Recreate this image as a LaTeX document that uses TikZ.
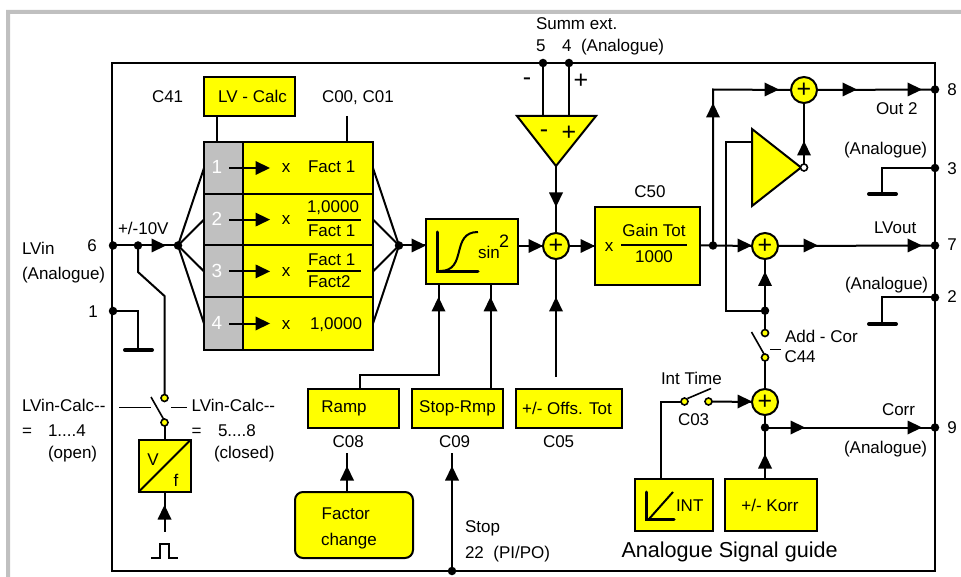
\documentclass[tikz,border=0pt]{standalone}
\usepackage{fontspec}
\setmainfont{Liberation Sans}
\usetikzlibrary{calc}
\definecolor{yel}{HTML}{FFFF00}
\definecolor{gry}{HTML}{C0C0C0}
\newcommand{\fs}[1]{\fontsize{#1}{#1}\selectfont}
\tikzset{
 x=1pt,y=-1pt,
 every path/.style={line width=2pt,line join=miter},
 wire/.style={draw=black,line width=2pt},
 thin wire/.style={draw=black,line width=1pt},
 thick bar/.style={draw=black,line width=4pt,line cap=round},
 box/.style={draw=black,fill=yel,line width=2pt,inner sep=0pt,outer sep=0pt,font=\fs{17}},
 graybox/.style={draw=black,fill=gry,line width=2pt,inner sep=0pt,outer sep=0pt},
 sum/.style={circle,draw=black,fill=yel,line width=2pt,minimum size=26pt,inner sep=0pt,outer sep=0pt,font=\fs{25}},
 dot/.style={circle,fill=black,minimum size=8.5pt,inner sep=0pt,outer sep=0pt},
 contact/.style={circle,draw=black,fill=yel,line width=1.6pt,minimum size=7pt,inner sep=0pt,outer sep=0pt},
 txt/.style={inner sep=0pt,outer sep=0pt,anchor=base west,font=\fs{17}},
 ctr/.style={inner sep=0pt,outer sep=0pt,anchor=base,font=\fs{17}},
 headr/.pic={\fill[black] (0,0)--(-14.5,-7)--(-14.5,7)--cycle;},
 headu/.pic={\fill[black] (0,0)--(-7,14.5)--(7,14.5)--cycle;},
 headd/.pic={\fill[black] (0,0)--(-7,-14.5)--(7,-14.5)--cycle;},
}
\begin{document}
\begin{tikzpicture}
\useasboundingbox (0,0) rectangle (961,577);
\fill[white] (0,0) rectangle (961,577);
% outer grey frame
\fill[gry] (6,577)--(6,10)--(961,10)--(961,14)--(10,14)--(10,577)--cycle;
% frame of the device
\draw[wire] (112,63) rectangle (935,571);

% boxes
\node[box,minimum width=91pt,minimum height=39pt] (lv) at (249.5,96.5) {\hspace{6pt}LV - Calc};
\foreach \i/\y in {1/168,2/219.6,3/271.4,4/323.5}{
  \node[graybox,minimum width=39pt,minimum height=52pt] (g\i) at (223.5,\y) {};
  \node[box,minimum width=130pt,minimum height=52pt] (c\i) at (308,\y) {};
}
\foreach \i/\y/\t in {1/174/1,2/226/2,3/278/3,4/330/4}{
  \node[ctr,font=\fs{19},text=white] (n\i) at (217,\y) {\t};
}
\foreach \i/\y/\b in {1/168/173,2/219.6/225,3/271.4/277,4/323.5/329}{
  \coordinate (ra\i) at (229,\y);
  \coordinate (rb\i) at (256,\y);
  \draw[wire] (ra\i)--(rb\i);
  \pic at (270,\y) {headr};
  \node[ctr] (x\i) at (286,\b) {x};
}
\node[txt] (f1) at (308,173) {Fact 1};
\node[txt] (f2a) at (307,213) {1,0000};
\node[txt] (f2b) at (308,236.5) {Fact 1};
\node[txt] (f3a) at (308,265.5) {Fact 1};
\node[txt] (f3b) at (308,288) {Fact2};
\node[txt] (f4) at (310,330) {1,0000};
\coordinate (l2a) at (307,219.6); \coordinate (l2b) at (361,219.6);
\coordinate (l3a) at (307,271.4); \coordinate (l3b) at (361,271.4);
\draw[wire] (l2a)--(l2b) (l3a)--(l3b);

\node[txt] (c41) at (152,103) {C41};
\node[txt] (c00) at (322,103) {C00, C01};
\coordinate (lvt) at (217,142); \coordinate (lvb) at (217,116);
\draw[wire] (lvb)--(lvt);
\coordinate (cct) at (347,116); \coordinate (ccb) at (347,142);
\draw[wire] (cct)--(ccb);

% input
\node[dot] (d6) at (113,245.5) {};
\node[dot] (d10) at (138,245.5) {};
\node[dot] (dl) at (178,245.5) {};
\node[dot] (dr) at (399,245.5) {};
\draw[wire] (d6.center)--(d10.center)--(dl.center);
\pic at (166,245.5) {headr};
\foreach \i in {1,2,3,4}{
  \draw[wire] (dl.center)--(g\i.west);
  \draw[wire] (dr.center)--(c\i.east);
}
\node[txt] (lvin) at (22,255) {LVin};
\node[txt] (lvina) at (22,280) {(Analogue)};
\node[ctr] (p6) at (92,252) {6};
\node[txt] (p10) at (118,235) {+/-10V};

% sin2 ramp
\node[box,minimum width=92pt,minimum height=65pt] (sin) at (471.5,252) {};
\draw[wire] (dr.center)--(sin.west|-dr);
\pic at (426,245.5) {headr};
\draw[line width=3pt,line cap=round] (437.5,232)--(437.5,272)--(478,272);
\draw[wire] (440,271) .. controls (468,271) and (450,232) .. (478,232);
\node[txt] (sintxt) at (478,259) {sin};
\node[txt,font=\fs{18}] (sin2) at (499,248) {2};

% summing point 1
\node[sum] (s1) at (556,246) {+};
\draw[wire] (sin.east|-s1)--(s1.west);
\pic at (543,246) {headr};
\node[box,minimum width=105pt,minimum height=78pt] (gain) at (647.5,246) {};
\draw[wire] (s1.east)--(gain.west);
\pic at (595,246) {headr};
\node[ctr] (xg) at (609,251.7) {x};
\node[ctr] (gt) at (654,236.7) {Gain Tot};
\node[ctr] (gb) at (654,262.7) {1000};
\coordinate (gl1) at (621,245); \coordinate (gl2) at (687,245);
\draw[wire] (gl1)--(gl2);
\node[ctr] (c50) at (650,198) {C50};

% summ ext
\coordinate (ta) at (517,116); \coordinate (tb) at (596,116); \coordinate (tc) at (556,166);
\draw[box] (ta)--(tb)--(tc)--cycle;
\node[dot] (d5) at (543,63) {};
\node[dot] (d4) at (569,63) {};
\coordinate (i5) at (543,116); \coordinate (i4) at (569,116);
\draw[wire] (d5.center)--(i5) (d4.center)--(i4);
\draw[wire] (tc)--(s1.north);
\pic at (556,207) {headd};
\node[txt] (sx) at (536,30) {Summ ext.};
\node[txt] (p5) at (536,51.6) {5};
\node[txt] (p4) at (562,51.6) {4};
\node[txt] (san) at (581,51.6) {(Analogue)};
\node[ctr,font=\fs{25}] (m1) at (527,86) {-};
\node[ctr,font=\fs{25}] (p1) at (581,89) {+};
\node[ctr,font=\fs{25}] (m2) at (544,138) {-};
\node[ctr,font=\fs{25}] (p2) at (569,141) {+};

% right part: out 2
\node[dot] (dg) at (713,245.5) {};
\node[sum] (s2) at (804,90) {+};
\node[dot] (d8) at (935,89.5) {};
\coordinate (up) at (713,89.5);
\draw[wire] (gain.east|-dg)--(dg.center)--(up)--(s2.west);
\draw[wire] (s2.east)--(d8.center);
\pic at (713,103) {headu};
\pic at (779,89.5) {headr};
\pic at (857,89.5) {headr};
\pic at (922,89.5) {headr};
\node[ctr] (p8) at (952,96) {8};
\node[txt] (out2) at (876,115) {Out 2};

% amplifier
\coordinate (oa) at (752,129); \coordinate (ob) at (752,206); \coordinate (oc) at (801,167.5);
\draw[box] (oa)--(ob)--(oc)--cycle;
\node[circle,draw=black,fill=white,line width=1.6pt,minimum size=7pt,inner sep=0pt,outer sep=0pt] (bub) at (804,167.5) {};
\draw[wire] (bub.north)--(s2.south);
\pic at (804,141) {headu};
\coordinate (oi) at (752,142); \coordinate (oj) at (725.5,142);

% LVout
\node[sum] (s3) at (765,246) {+};
\node[dot] (d7) at (935,245.5) {};
\draw[wire] (dg.center)--(s3.west);
\draw[wire] (s3.east)--(d7.center);
\pic at (752,245.5) {headr};
\pic at (818,245.5) {headr};
\pic at (922,245.5) {headr};
\node[ctr] (p7) at (952,250.7) {7};
\node[txt] (lvout) at (874,234) {LVout};
\node[dot] (dc) at (765,310.7) {};
\coordinate (ok) at (725.5,310.7);
\draw[wire] (oi)--(oj)--(ok)--(dc.center);
\draw[wire] (dc.center)--(s3.south);
\pic at (765,271.5) {headu};

% earths
\node[dot] (d3) at (935,168) {};
\coordinate (e3a) at (882,168); \coordinate (e3b) at (882,194);
\coordinate (b3a) at (869,194); \coordinate (b3b) at (896,194);
\draw[wire] (d3.center)--(e3a)--(e3b);
\draw[thick bar] (b3a)--(b3b);
\node[ctr] (p3) at (952,175) {3};
\node[txt] (an3) at (844,155) {(Analogue)};
\node[dot] (d2) at (935,297.5) {};
\coordinate (e2a) at (882,297.5); \coordinate (e2b) at (882,324);
\coordinate (b2a) at (869,324); \coordinate (b2b) at (896,324);
\draw[wire] (d2.center)--(e2a)--(e2b);
\draw[thick bar] (b2a)--(b2b);
\node[ctr] (p2n) at (952,303) {2};
\node[txt] (an2) at (845,290) {(Analogue)};
\node[dot] (d1) at (113,311) {};
\coordinate (e1a) at (138,311); \coordinate (e1b) at (138,350);
\coordinate (b1a) at (125,350); \coordinate (b1b) at (152,350);
\draw[wire] (d1.center)--(e1a)--(e1b);
\draw[thick bar] (b1a)--(b1b);
\node[ctr] (p1n) at (93,317) {1};

% add-cor switch
\node[contact] (k1) at (765,333) {};
\node[contact] (k2) at (765,357.5) {};
\coordinate (lev1) at (751.5,332); \coordinate (lev2) at (764,354);
\draw[wire,line width=1.6pt] (lev1)--(lev2);
\coordinate (da1) at (770,349); \coordinate (da2) at (781,349);
\draw[thin wire] (da1)--(da2);
\draw[wire] (dc.center)--(k1.north);
\node[sum] (s4) at (765,402) {+};
\draw[wire] (k2.south)--(s4.north);
\node[txt] (addc) at (785,342.7) {Add - Cor};
\node[txt] (c44) at (784.5,362.7) {C44};

% int switch
\node[contact] (k3) at (684.5,401.5) {};
\node[contact] (k4) at (708.5,401.5) {};
\coordinate (lev3) at (687.5,398.5); \coordinate (lev4) at (711,388.5);
\draw[wire,line width=1.6pt] (lev3)--(lev4);
\draw[wire] (k4.east)--(s4.west);
\pic at (752,401.5) {headr};
\node[txt] (intt) at (661,384) {Int Time};
\node[txt] (c03) at (678,425) {C03};
\node[box,minimum width=78pt,minimum height=52pt] (int) at (673.5,505) {};
\node[box,minimum width=92pt,minimum height=52pt] (korr) at (771,505) {+/- Korr\hspace{2pt}\null};
\coordinate (ii) at (660.5,401.5); \coordinate (ij) at (660.5,479);
\draw[wire] (k3.west)--(ii)--(ij);
\draw[line width=3pt,line cap=round] (646.5,492)--(646.5,519)--(674,519);
\draw[wire] (649,519)--(673,492);
\node[txt] (inttxt) at (676,511.5) {INT};
\node[dot] (d9a) at (765,427.5) {};
\node[dot] (d9) at (935,427.5) {};
\coordinate (kt) at (765,479);
\draw[wire] (kt)--(s4.south);
\draw[wire] (d9a.center)--(d9.center);
\pic at (765,454) {headu};
\pic at (805,427.5) {headr};
\pic at (922,427.5) {headr};
\node[ctr] (p9) at (952,433) {9};
\node[txt] (corr) at (882,415) {Corr};
\node[txt] (an9) at (844,453) {(Analogue)};
\node[txt,font=\fs{21.6}] (asg) at (621.5,557.7) {Analogue Signal guide};

% ramp group
\node[box,minimum width=91pt,minimum height=39pt] (ramp) at (353.5,408) {Ramp\hspace{19pt}\null};
\node[box,minimum width=91pt,minimum height=39pt] (stop) at (457.5,408) {Stop-Rmp};
\node[box,minimum width=106pt,minimum height=39pt] (offs) at (569,408) {+/- Offs. Tot\hspace{4pt}\null};
\coordinate (r1) at (360,388.5); \coordinate (r2) at (360,375); \coordinate (r3) at (438.5,375); \coordinate (r4) at (438.5,284.5);
\draw[wire] (r1)--(r2)--(r3)--(r4);
\pic at (438.5,297) {headu};
\coordinate (st1) at (490.5,388.5); \coordinate (st2) at (490.5,284.5);
\draw[wire] (st1)--(st2);
\pic at (490.5,297) {headu};
\coordinate (of1) at (556,377);
\draw[wire] (of1)--(s1.south);
\pic at (556,297) {headu};
\node[txt] (c08) at (332.7,447) {C08};
\node[txt] (c09) at (439,447) {C09};
\node[txt] (c05) at (543,447) {C05};
\node[box,rounded corners=8pt,minimum width=118pt,minimum height=66pt] (fac) at (354,525) {};
\node[txt] (fac1) at (321.7,519) {Factor};
\node[txt] (fac2) at (321,545) {change};
\coordinate (fa) at (347,492); \coordinate (fb) at (347,453);
\draw[wire] (fa)--(fb);
\pic at (347,466) {headu};
\node[dot] (d22) at (452,571) {};
\coordinate (sb) at (452,453);
\draw[wire] (d22.center)--(sb);
\pic at (452,466) {headu};
\node[txt] (stp) at (465,532) {Stop};
\node[txt] (p22) at (465,558) {22\ \ (PI/PO)};

% V/f switch
\coordinate (sw1) at (138,272); \coordinate (sw2) at (164.5,296);
\node[contact] (k5) at (164.5,398) {};
\node[contact] (k6) at (164.5,422.5) {};
\draw[wire] (d10.center)--(sw1)--(sw2)--(k5.north);
\coordinate (lev5) at (151,397); \coordinate (lev6) at (163.5,419);
\draw[wire,line width=1.6pt] (lev5)--(lev6);
\coordinate (ld1) at (119,407); \coordinate (ld2) at (151,407);
\coordinate (ld3) at (171,407); \coordinate (ld4) at (187,407);
\draw[thin wire] (ld1)--(ld2) (ld3)--(ld4);
\node[box,minimum width=52pt,minimum height=52pt] (vf) at (164.5,466) {};
\draw[wire] (k6.south)--(vf.north);
\draw[wire] (vf.south west)--(vf.north east);
\node[ctr] (v) at (153,465) {V};
\node[ctr] (ff) at (176,486.7) {f};
\coordinate (pu) at (164.5,532);
\draw[wire] (vf.south)--(pu);
\pic at (164.5,505) {headu};
\draw[wire] (151,558)--(160,558)--(160,544)--(169,544)--(169,558)--(178,558);
\node[txt] (lc1) at (22,411.7) {LVin-Calc-{}-};
\node[txt] (lc2) at (191.7,411.7) {LVin-Calc-{}-};
\node[txt] (eq1) at (22,436.7) {=};
\node[txt] (r14) at (48,436.7) {1....4};
\node[txt] (opn) at (48,458) {(open)};
\node[txt] (eq2) at (191.7,436.7) {=};
\node[txt] (r58) at (218,436.7) {5....8};
\node[txt] (cls) at (214,458) {(closed)};
\end{tikzpicture}
\end{document}
